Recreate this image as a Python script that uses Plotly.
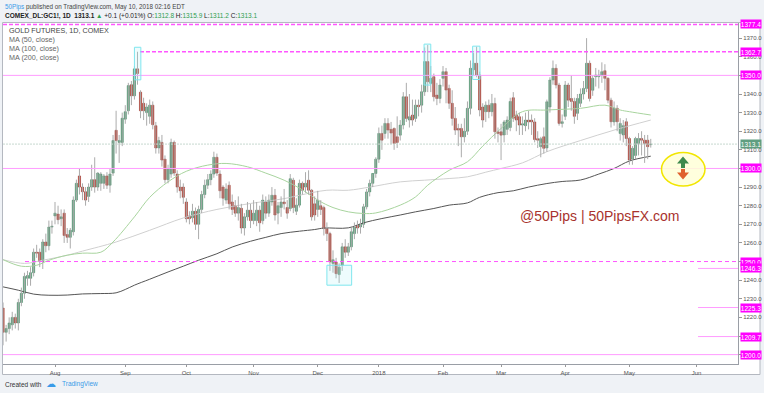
import plotly.graph_objects as go
import pandas as pd

W, H = 764, 393

# ---------------- data ----------------
holidays = ["2017-09-04", "2017-11-23", "2017-12-25", "2018-01-01", "2018-01-15",
            "2018-02-19", "2018-03-30", "2018-05-28"]
days = [d for d in pd.bdate_range("2017-07-07", "2018-06-29")
        if d.strftime("%Y-%m-%d") not in holidays]

opens = [
    1225, 1212, 1214, 1216, 1220, 1217, 1228, 1233, 1241, 1241,
    1244, 1255, 1255, 1250, 1260.5, 1258.5, 1268.5, 1274.5, 1275.5, 1273,
    1276, 1264.5, 1263, 1266, 1283, 1296, 1290, 1287.5, 1285, 1290,
    1294, 1290, 1292, 1292, 1296, 1291, 1297.5, 1320.5, 1314, 1314,
    1326.5, 1331, 1345, 1339, 1353.5, 1341, 1335, 1330, 1328, 1334,
    1323, 1311, 1314, 1305, 1294, 1297, 1314, 1297, 1290, 1290,
    1282, 1274.5, 1273.5, 1277, 1270, 1278, 1286, 1291, 1294, 1297,
    1306, 1297, 1290, 1283, 1291, 1282, 1280, 1276, 1278.6, 1268,
    1274, 1277.6, 1272, 1272, 1277.6, 1272, 1282, 1276, 1282, 1285.6,
    1276, 1279, 1282, 1279, 1278.5, 1293.7, 1277, 1280.3, 1292, 1290,
    1293.7, 1288.3, 1281, 1278, 1280, 1279, 1267.7, 1265, 1249, 1249.8,
    1243, 1248, 1257.9, 1255, 1257.9, 1265, 1269.5, 1268.6, 1270, 1279.4,
    1287.4, 1292, 1297.3, 1305, 1318.8, 1318.8, 1324.2, 1321, 1321.5, 1317,
    1317.9, 1323.3, 1338.5, 1326, 1328.7, 1326.9, 1334, 1334, 1341.2, 1357.4,
    1345.7, 1349.3, 1339.4, 1337.6, 1348.4, 1352, 1343, 1335, 1326.9, 1321.5,
    1321.5, 1317, 1320, 1332.3, 1353, 1356.5, 1350.2, 1333, 1330.5, 1334,
    1330.5, 1334.9, 1319.7, 1319.7, 1318, 1321, 1322, 1338, 1328.7, 1327.8,
    1323.3, 1323, 1326, 1326, 1325, 1316, 1311.7, 1317, 1311, 1333,
    1347.5, 1353.8, 1344.8, 1324.2, 1328, 1344.8, 1337.6, 1336, 1329.6, 1335,
    1340, 1343, 1356.5, 1342, 1349.3, 1349.3, 1350, 1352.5, 1348.4, 1336.7,
    1325, 1332.3, 1318.8, 1318, 1325.1, 1316.1, 1305, 1307, 1313.4, 1316.1,
    1315.2, 1315.2, 1312.8,
]
highs = [
    1228, 1216, 1220, 1223, 1222, 1230, 1236, 1244, 1245, 1247,
    1257, 1259, 1257, 1262, 1265, 1272, 1272, 1282, 1280, 1278,
    1278, 1268, 1268, 1285, 1294, 1300, 1292, 1290, 1292, 1302,
    1306, 1298, 1298, 1297, 1298, 1300, 1318, 1331, 1318, 1330,
    1334, 1346, 1347, 1355, 1362.7, 1342, 1338, 1335, 1337, 1336,
    1325, 1317, 1318, 1307, 1302, 1316, 1315, 1299, 1294, 1292,
    1284, 1277, 1281, 1279, 1280, 1288, 1294, 1297, 1299, 1309,
    1308, 1299, 1291, 1292, 1293, 1286, 1283, 1285, 1281, 1276,
    1282, 1281, 1283, 1282, 1280, 1286, 1285, 1286, 1290, 1289,
    1282, 1285, 1289, 1283, 1297, 1295, 1284, 1294, 1293, 1298,
    1299, 1289, 1285, 1288, 1283, 1280, 1271, 1266, 1256, 1252,
    1249, 1260, 1262, 1260, 1268, 1271, 1272, 1273, 1281, 1289,
    1294, 1297, 1306, 1322, 1323, 1327, 1327, 1325, 1322, 1328,
    1326, 1341, 1346, 1340, 1337, 1337, 1337, 1345, 1365, 1366.3,
    1355, 1351, 1346, 1348, 1355, 1354, 1345, 1342, 1333, 1324,
    1324, 1327, 1336, 1358, 1362, 1365.4, 1352, 1335, 1336, 1337,
    1340, 1338, 1322, 1324, 1326, 1328, 1338, 1341, 1331, 1330,
    1328, 1330, 1331, 1329, 1327, 1320, 1317, 1322, 1337, 1349,
    1358, 1356, 1346, 1329, 1347, 1346, 1350, 1338, 1340, 1343,
    1347, 1370, 1358, 1350, 1354, 1353, 1357, 1356, 1349, 1338,
    1336, 1334, 1327, 1326, 1327, 1317, 1312, 1317, 1319, 1320,
    1318, 1318, 1315.9,
]
lows = [
    1205, 1207, 1211, 1213, 1214, 1213, 1226, 1230, 1237, 1237,
    1242, 1252, 1247, 1246, 1255, 1256, 1265, 1270, 1270, 1269,
    1260, 1260, 1257, 1264, 1282, 1286, 1283, 1280, 1282, 1288,
    1287, 1288, 1288, 1289, 1289, 1287, 1296, 1308, 1303, 1312,
    1324, 1329, 1334, 1337, 1345, 1327, 1326, 1323, 1324, 1321,
    1308, 1308, 1301, 1292, 1292, 1295, 1296, 1287, 1284, 1281,
    1271, 1270, 1271, 1267, 1262, 1276, 1284, 1289, 1291, 1295,
    1296, 1284, 1280, 1281, 1278, 1275, 1274, 1272, 1265, 1264,
    1272, 1268, 1270, 1269, 1266, 1270, 1273, 1274, 1280, 1272,
    1270, 1274, 1278, 1273, 1277, 1276, 1275, 1279, 1286, 1287,
    1286, 1272, 1272, 1274, 1275, 1264, 1261, 1245, 1244, 1241,
    1238.5, 1245, 1252, 1253, 1256, 1262, 1265, 1265, 1268, 1278,
    1285, 1290, 1295, 1303, 1310, 1316, 1316, 1313, 1310, 1311,
    1315, 1321, 1325, 1322, 1323, 1325, 1328, 1330, 1339, 1341,
    1341, 1336, 1334, 1335, 1344, 1335, 1332, 1323, 1318, 1312,
    1306, 1314, 1318, 1329, 1350, 1349, 1328, 1322, 1325, 1327,
    1328, 1316, 1314, 1304.5, 1314, 1318, 1320, 1325, 1320, 1318,
    1318, 1320, 1321, 1318, 1314, 1311, 1306, 1308, 1309, 1330,
    1345, 1343, 1323, 1322, 1326, 1333, 1331, 1324, 1326, 1333,
    1337, 1341, 1336, 1339, 1344, 1343, 1346, 1342, 1335, 1322,
    1323, 1320, 1315, 1314, 1312, 1302, 1302, 1305, 1307, 1307,
    1303, 1305, 1311.2,
]
closes = [
    1212, 1214, 1217, 1220, 1217, 1228, 1233, 1242, 1242.5, 1244,
    1255, 1254.5, 1250, 1260.5, 1258.5, 1268.5, 1269, 1276, 1272.5, 1274,
    1264, 1263, 1266.8, 1283, 1292, 1290, 1287.5, 1283, 1290, 1294,
    1290, 1297.5, 1297, 1296, 1291, 1297, 1315, 1315, 1315, 1327,
    1330.5, 1344.5, 1339, 1353.5, 1351, 1331, 1331, 1333, 1334, 1323.5,
    1311, 1315, 1304.5, 1294, 1300, 1314, 1297.5, 1290, 1288, 1284.5,
    1273, 1273, 1277, 1270, 1278, 1286, 1291, 1294, 1297, 1306,
    1297.5, 1288, 1284, 1289, 1281, 1278, 1276, 1279, 1268, 1274,
    1277.6, 1272, 1276, 1277.6, 1270.8, 1283, 1276, 1283, 1285.6, 1275,
    1280, 1282, 1281, 1276, 1294.5, 1279, 1280.3, 1292, 1288.3, 1292,
    1288.3, 1274, 1275, 1283, 1278, 1267.7, 1265, 1249.8, 1251, 1243.5,
    1247, 1257.9, 1255, 1257.9, 1266, 1268.6, 1268, 1270, 1279.4, 1287.4,
    1292, 1297.3, 1305, 1318.8, 1315.2, 1324.2, 1320.6, 1319, 1313.4, 1314,
    1323.3, 1338.5, 1326.9, 1327.8, 1326, 1334, 1333.2, 1341.2, 1357.4, 1346.6,
    1348.4, 1338.5, 1337.6, 1344.8, 1352, 1342.1, 1335, 1326.9, 1320.6, 1320.6,
    1317, 1320, 1332.3, 1353.8, 1356.5, 1350.2, 1331.4, 1326, 1334, 1330.5,
    1334.9, 1319.7, 1318.8, 1317.9, 1325, 1326, 1336, 1327, 1326, 1323.3,
    1324, 1326, 1325, 1325, 1315.5, 1315.2, 1316, 1310.8, 1335.8, 1347.5,
    1353.8, 1344.8, 1324.2, 1325.1, 1344.8, 1336.7, 1336, 1328, 1337.6, 1340,
    1343, 1356.5, 1337.6, 1348.4, 1350.2, 1350.2, 1352, 1348.4, 1336.7, 1325.1,
    1332.3, 1325.1, 1324.2, 1323, 1316.1, 1304.5, 1310.8, 1316.1, 1316.1, 1315.2,
    1313.4, 1311.7, 1313.1,
]

# moving averages (bar index, value)
ma50_x = [0, 6, 11, 15, 21, 26, 32, 36, 43, 48, 54, 60, 67, 73, 80, 86, 92, 98, 103,
          108, 113, 118, 122, 130, 135, 139, 146, 152, 157, 163, 170, 178, 189, 197,
          202, 205, 212]
ma50_y = [1251, 1247.5, 1248, 1250.7, 1253.4, 1254.5, 1255, 1260.5, 1274, 1284.5,
          1292.8, 1298.5, 1301.8, 1302.7, 1300.9, 1297.5, 1293.7, 1288.5, 1283,
          1279, 1276.7, 1275.8, 1276.1, 1280.3, 1284.7, 1291, 1299, 1303.6, 1312,
          1321.5, 1330.5, 1331.4, 1332.3, 1334, 1331.4, 1330.5, 1328.7]
ma100_x = [0, 7, 13, 21, 26, 37, 48, 59, 70, 81, 92, 97, 106, 113, 120, 130, 138,
           146, 152, 158, 163, 170, 178, 189, 200, 212]
ma100_y = [1251, 1249, 1250.7, 1253.4, 1255.6, 1260.5, 1266.8, 1273.4, 1278, 1281.2,
           1283.8, 1285.6, 1288.3, 1288.3, 1290, 1292.8, 1293.7, 1294.6, 1295.5,
           1298, 1300, 1303, 1309, 1315, 1320.6, 1326]
ma200_x = [0, 5, 10, 15, 21, 26, 32, 37, 40, 43, 48, 54, 59, 64, 70, 75, 81, 86, 91,
           97, 102, 105, 113, 118, 124, 130, 135, 141, 146, 152, 156, 162, 167, 172,
           178, 183, 189, 195, 200, 205, 212]
ma200_y = [1236.4, 1234.6, 1232.5, 1231.9, 1232, 1232.6, 1232.8, 1233.2, 1235, 1237.3,
           1240.5, 1244.4, 1247.5, 1250.7, 1254.2, 1257.8, 1260.9, 1263, 1265, 1266.3,
           1267.2, 1268, 1268.1, 1270.8, 1273.1, 1275, 1276.7, 1278.5, 1280.3, 1281.5,
           1284.5, 1287, 1288, 1290, 1291.9, 1293, 1293.8, 1297, 1300, 1304, 1306.6]

top_level = 1377.4
dotted_levels = [1350.0, 1300.0, 1200.0]
peak_level = 1362.7
support_level = 1250.0
short_levels = [1246.3, 1225.3, 1209.7]
last_price = 1313.1
label_levels = [1377.4, 1362.7, 1350.0, 1300.0, 1250.0, 1246.3, 1225.3, 1209.7, 1200.0]

ytick_vals = list(range(1200, 1371, 10))

# ---------------- styling helpers ----------------
FONT = "Liberation Sans, Arial, sans-serif"
GREEN = "#53a077"
RED = "#c1392b"
MAG_DASH = "#ff55ff"
MAG_DOT = "#ff9cff"

X_LEFT, X_RIGHT = 3, 738      # plot pane in pixels
Y_TOP, Y_BOT = 22.7, 364.3


def px(x):
    return x / W


def py(y):
    return 1 - y / H


n = len(closes)
xs = list(range(n))

# month ticks
tickvals, ticktext = [], []
seen = set()
for i, d in enumerate(days):
    key = (d.year, d.month)
    if key in seen:
        continue
    seen.add(key)
    if d.month == 7 and d.year == 2017:
        continue
    tickvals.append(i)
    ticktext.append("2018" if d.month == 1 else d.strftime("%b"))

fig = go.Figure()

fig.add_trace(go.Scatter(x=ma100_x, y=ma100_y, mode="lines", line=dict(color="#d0d0d0", width=1, shape="spline"),
                         hoverinfo="skip"))
fig.add_trace(go.Scatter(x=ma50_x, y=ma50_y, mode="lines", line=dict(color="#a8d49e", width=1, shape="spline"),
                         hoverinfo="skip"))
fig.add_trace(go.Scatter(x=ma200_x, y=ma200_y, mode="lines", line=dict(color="#555555", width=1, shape="spline"),
                         hoverinfo="skip"))

wx, wy = [], []
for i in xs:
    wx += [i, i, None]
    wy += [lows[i], highs[i], None]
fig.add_trace(go.Scatter(x=wx, y=wy, mode="lines", line=dict(color="#ababab", width=1), hoverinfo="skip"))

body_colors = [GREEN if c >= o else RED for o, c in zip(opens, closes)]
edge_colors = ["#3f7f5c" if c >= o else "#8e2a20" for o, c in zip(opens, closes)]
fig.add_trace(go.Bar(x=xs, base=opens, y=[c - o for o, c in zip(opens, closes)], width=0.72,
                     marker=dict(color=body_colors, line=dict(color=edge_colors, width=0.5))))

shapes = []
# chart frame (white panel incl. axes strips)
shapes.append(dict(type="rect", xref="paper", yref="paper", x0=px(2.5), x1=px(760), y0=py(374.5), y1=py(22.5),
                   fillcolor="white", line=dict(color="#b4b8c0", width=1), layer="below"))


def hline(x0px, y, color, width, dash):
    return dict(type="line", xref="paper", yref="y", x0=px(x0px), x1=px(X_RIGHT), y0=y, y1=y,
                line=dict(color=color, width=width, dash=dash))


shapes.append(hline(X_LEFT, top_level, MAG_DASH, 1.5, "4px,2px"))
for lv in dotted_levels:
    shapes.append(hline(X_LEFT, lv, MAG_DOT, 1, "solid"))
shapes.append(hline(140, peak_level, MAG_DASH, 1.5, "4px,2px"))
shapes.append(hline(25, support_level, MAG_DASH, 1, "4px,3px"))
for lv in short_levels:
    shapes.append(hline(698, lv, MAG_DOT, 1, "solid"))
shapes.append(hline(X_LEFT, last_price, "#c6d8cf", 1, "2px,1px"))

# highlight boxes
for (x0, x1, y0, y1) in [(43.0, 45.1, 1347.6, 1365.1), (137.8, 140.0, 1344.8, 1366.8),
                         (153.7, 156.1, 1347.8, 1365.7), (106.0, 114.1, 1237.3, 1248.0)]:
    shapes.append(dict(type="rect", xref="x", yref="y", x0=x0, x1=x1, y0=y0, y1=y1,
                       fillcolor="rgba(160,240,245,0.18)", line=dict(color="#7fe6ee", width=1)))

# yellow ellipse
shapes.append(dict(type="circle", xref="paper", yref="paper", x0=px(661.5), x1=px(705), y0=py(186), y1=py(152.5),
                   fillcolor="rgba(255,255,215,0.85)", line=dict(color="#f2e600", width=1.5)))


def path(points):
    return "M " + " L ".join(f"{px(a):.5f},{py(b):.5f}" for a, b in points) + " Z"


shapes.append(dict(type="path", xref="paper", yref="paper",
                   path=path([(683, 156.5), (689, 163.5), (685, 163.5), (685, 168), (681, 168),
                              (681, 163.5), (677, 163.5)]),
                   fillcolor="#3f8a4e", line=dict(width=0)))
shapes.append(dict(type="path", xref="paper", yref="paper",
                   path=path([(681, 169), (685, 169), (685, 172.5), (689, 172.5), (683, 179.5),
                              (677, 172.5), (681, 172.5)]),
                   fillcolor="#e0622e", line=dict(width=0)))

annotations = []
for lv in label_levels:
    annotations.append(dict(xref="paper", yref="y", x=px(739.5), y=lv, xanchor="left", yanchor="middle",
                            text=f"{lv:.1f}", showarrow=False, bgcolor="#ff00ff", width=20, height=8,
                            font=dict(family=FONT, size=6.5, color="white"), borderpad=0))
annotations.append(dict(xref="paper", yref="y", x=px(739.5), y=last_price, xanchor="left", yanchor="middle",
                        text=f"{last_price:.1f}", showarrow=False, bgcolor="#5f9e80", width=20, height=8,
                        font=dict(family=FONT, size=6.5, color="white"), borderpad=0))

hdr1 = ('<span style="color:#3a9be8">50Pips</span> published on TradingView.com, May 10, 2018 02:16 EDT')
G = "#2e9e4f"
hdr2 = ('<b>COMEX_DL:GC1!, 1D</b>  <b>1313.1</b> <span style="color:%s">▲</span> +0.1 (+0.01%%) '
        'O:<span style="color:%s">1312.8</span> H:<span style="color:%s">1315.9</span> '
        'L:<span style="color:%s">1311.2</span> C:<span style="color:%s">1313.1</span>') % (G, G, G, G, G)
annotations.append(dict(xref="paper", yref="paper", x=px(3), y=py(6.5), xanchor="left", yanchor="middle",
                        text=hdr1, showarrow=False, font=dict(family=FONT, size=6.3, color="#444")))
annotations.append(dict(xref="paper", yref="paper", x=px(3), y=py(15.5), xanchor="left", yanchor="middle",
                        text=hdr2, showarrow=False, font=dict(family=FONT, size=6.5, color="#222")))

legend_lines = ["GOLD FUTURES, 1D, COMEX", "MA (50, close)", "MA (100, close)", "MA (200, close)"]
legend_colors = ["#444", "#666", "#666", "#666"]
for j, t in enumerate(legend_lines):
    annotations.append(dict(xref="paper", yref="paper", x=px(7), y=py(30.5 + 9 * j), xanchor="left",
                            yanchor="middle", text=t, showarrow=False,
                            font=dict(family=FONT, size=7.2, color=legend_colors[j])))

annotations.append(dict(xref="paper", yref="paper", x=px(599), y=py(216), xanchor="center", yanchor="middle",
                        text="@50Pips | 50PipsFX.com", showarrow=False,
                        font=dict(family=FONT, size=14, color="#a8322d")))

annotations.append(dict(xref="paper", yref="paper", x=px(3), y=py(384), xanchor="left", yanchor="middle",
                        text="Created with", showarrow=False, font=dict(family=FONT, size=6.5, color="#333")))
annotations.append(dict(xref="paper", yref="paper", x=px(44), y=py(383.5), xanchor="left", yanchor="middle",
                        text="☁", showarrow=False, font=dict(family="DejaVu Sans", size=10, color="#3a9be8")))
annotations.append(dict(xref="paper", yref="paper", x=px(60), y=py(384), xanchor="left", yanchor="middle",
                        text="TradingView", showarrow=False, font=dict(family=FONT, size=6.5, color="#3a9be8")))

# tick labels that the level boxes cover are left blank
covered = {1350, 1300, 1250, 1210, 1200}
yticktext = ["" if v in covered else f"{v:.1f}" for v in ytick_vals]

fig.update_layout(
    width=W, height=H, margin=dict(l=0, r=0, t=0, b=0),
    paper_bgcolor="#eff2f6", plot_bgcolor="white",
    showlegend=False, barmode="overlay",
    shapes=shapes, annotations=annotations,
    xaxis=dict(domain=[px(X_LEFT), px(X_RIGHT)], range=[-0.02, 240.56], tickvals=tickvals, ticktext=ticktext,
               ticks="outside", ticklen=2, tickcolor="#999", showline=True, linecolor="#9a9ea6",
               showgrid=False, zeroline=False, tickfont=dict(family=FONT, size=6, color="#555")),
    yaxis=dict(domain=[py(Y_BOT), py(Y_TOP)], range=[1194.8, 1378.3], side="right",
               tickvals=ytick_vals, ticktext=yticktext,
               ticks="outside", ticklen=3, tickcolor="#999", showline=True, linecolor="#9a9ea6",
               showgrid=False, zeroline=False, tickfont=dict(family=FONT, size=6, color="#555")),
)

fig.write_html("out.html")
